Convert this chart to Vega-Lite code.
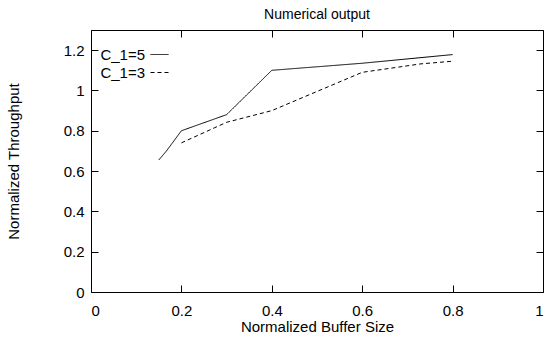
{
  "$schema": "https://vega.github.io/schema/vega-lite/v6.json",
  "width": 452,
  "height": 262,
  "autosize": "none",
  "padding": {"left": 91, "top": 30, "right": 4, "bottom": 45},
  "background": "white",
  "title": {"text": "Numerical output", "fontSize": 14, "font": "Liberation Sans", "fontWeight": "normal", "color": "black", "offset": 8},
  "config": {
    "view": {"stroke": "black", "strokeWidth": 1},
    "axis": {
      "grid": false,
      "domain": false,
      "ticks": true,
      "tickColor": "black",
      "tickOpacity": 1,
      "format": "~g",
      "labelFont": "Liberation Sans",
      "labelFontSize": 15,
      "labelColor": "black",
      "titleFont": "Liberation Sans",
      "titleFontSize": 15,
      "titleFontWeight": "normal",
      "titleColor": "black"
    }
  },
  "data": {
    "values": [
      {"x": 0.15, "y": 0.655, "series": "C_1=5"},
      {"x": 0.167, "y": 0.70, "series": "C_1=5"},
      {"x": 0.2, "y": 0.80, "series": "C_1=5"},
      {"x": 0.3, "y": 0.88, "series": "C_1=5"},
      {"x": 0.4, "y": 1.10, "series": "C_1=5"},
      {"x": 0.6, "y": 1.135, "series": "C_1=5"},
      {"x": 0.8, "y": 1.178, "series": "C_1=5"},
      {"x": 0.2, "y": 0.74, "series": "C_1=3"},
      {"x": 0.3, "y": 0.842, "series": "C_1=3"},
      {"x": 0.4, "y": 0.90, "series": "C_1=3"},
      {"x": 0.6, "y": 1.09, "series": "C_1=3"},
      {"x": 0.73, "y": 1.132, "series": "C_1=3"},
      {"x": 0.8, "y": 1.145, "series": "C_1=3"}
    ]
  },
  "layer": [
    {
      "mark": {"type": "line", "strokeWidth": 1, "color": "black"},
      "encoding": {
        "x": {"field": "x", "type": "quantitative", "scale": {"domain": [0, 1], "nice": false},
              "axis": {"orient": "bottom", "values": [0, 0.2, 0.4, 0.6, 0.8, 1], "title": "Normalized Buffer Size", "tickSize": -7, "labelPadding": 18, "titlePadding": 1}},
        "y": {"field": "y", "type": "quantitative", "scale": {"domain": [0, 1.3], "nice": false, "zero": true},
              "axis": {"orient": "left", "values": [0, 0.2, 0.4, 0.6, 0.8, 1, 1.2], "title": "Normalized Throughput", "tickSize": -7, "labelPadding": 14, "titlePadding": 42}},
        "strokeDash": {"field": "series", "type": "nominal",
              "scale": {"domain": ["C_1=5", "C_1=3"], "range": [[1, 0], [4, 3]]},
              "legend": {"orient": "none", "legendX": 59, "legendY": 15, "title": null, "symbolType": "M-1,0H1", "symbolSize": 324, "symbolStrokeWidth": 1, "symbolStrokeColor": "black", "labelAlign": "right", "labelOffset": -24, "labelFont": "Liberation Sans", "labelFontSize": 15, "labelColor": "black", "labelLimit": 200, "rowPadding": 0, "padding": 0}}
      }
    },
    {
      "mark": {"type": "line", "strokeWidth": 0},
      "encoding": {
        "x": {"field": "x", "type": "quantitative", "scale": {"domain": [0, 1], "nice": false},
              "axis": {"orient": "top", "tickSize": -7, "values": [0, 0.2, 0.4, 0.6, 0.8, 1], "labels": false, "title": null}},
        "y": {"field": "y", "type": "quantitative", "scale": {"domain": [0, 1.3], "nice": false, "zero": true},
              "axis": {"orient": "right", "tickSize": -7, "values": [0, 0.2, 0.4, 0.6, 0.8, 1, 1.2], "labels": false, "title": null}}
      }
    }
  ],
  "resolve": {"scale": {"x": "independent", "y": "independent"}, "axis": {"x": "independent", "y": "independent"}}
}
